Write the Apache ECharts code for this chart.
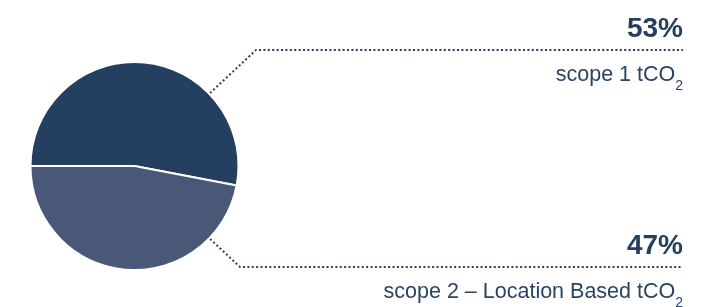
<!DOCTYPE html>
<html>
    <head>
        <meta charset="utf-8">
        <title>scope emissions</title>
        <script src="https://cdn.jsdelivr.net/npm/echarts@6/dist/echarts.min.js"></script>
        <style>
            html, body { margin: 0; padding: 0; background: #ffffff; }
            #chart1 { width: 709px; height: 307px; }
        </style>
    </head>
    <body>
        <div id="chart1"></div>
        <script type="text/javascript">
            // data
            var categories = ['scope 1 tCO2', 'scope 2 \u2013 Location Based tCO2'];
            var shares = [53, 47];
            var colors = ['#243f5f', '#4a5878'];

            // layout
            var cx = 134.5, cy = 166, r = 104;
            var lineRight = 683;
            var lineYs = [50, 267];
            var bendXs = [256, 240];
            var startAngles = [44, -44];

            var myChart1 = echarts.init(document.getElementById('chart1'));

            myChart1.setOption({
                animation: false,
                series: [
                    {
                        type: 'pie',
                        center: [cx, cy],
                        radius: [0, r],
                        startAngle: 180,
                        clockwise: true,
                        itemStyle: {
                            borderColor: '#ffffff',
                            borderWidth: 2
                        },
                        emphasis: { disabled: true },
                        label: {
                            show: true,
                            position: 'outside',
                            overflow: 'none',
                            width: 400,
                            color: '#243f5f',
                            formatter: function (p) {
                                var name = p.name.replace('CO2', 'CO}{s|2');
                                return '{p|' + p.value + '%}\n{n|' + name + '}';
                            },
                            rich: {
                                p: {
                                    fontSize: 28,
                                    fontWeight: 'bold',
                                    color: '#243f5f',
                                    lineHeight: 47,
                                    padding: [3, 0, 0, 0],
                                    fontFamily: "'Liberation Sans', Arial, sans-serif"
                                },
                                n: {
                                    fontSize: 21.5,
                                    color: '#2b4465',
                                    lineHeight: 47,
                                    fontFamily: "'Liberation Sans', Arial, sans-serif"
                                },
                                s: {
                                    fontSize: 14,
                                    color: '#2b4465',
                                    lineHeight: 14,
                                    padding: [22, 0, 0, 0],
                                    fontFamily: "'Liberation Sans', Arial, sans-serif"
                                }
                            }
                        },
                        labelLine: {
                            show: true,
                            lineStyle: {
                                color: '#243f5f',
                                width: 2,
                                type: [2, 2.4]
                            }
                        },
                        labelLayout: function (params) {
                            var i = params.dataIndex;
                            var a = startAngles[i] * Math.PI / 180;
                            var sx = cx + (r + 1) * Math.cos(a);
                            var sy = cy - (r + 1) * Math.sin(a);
                            return {
                                x: lineRight,
                                y: lineYs[i] + 1.5,
                                align: 'right',
                                verticalAlign: 'middle',
                                labelLinePoints: [[sx, sy], [bendXs[i], lineYs[i]], [lineRight, lineYs[i]]]
                            };
                        },
                        data: categories.map(function (c, i) {
                            return { name: c, value: shares[i], itemStyle: { color: colors[i] } };
                        })
                    }
                ]
            });
        </script>
    </body>
</html>
